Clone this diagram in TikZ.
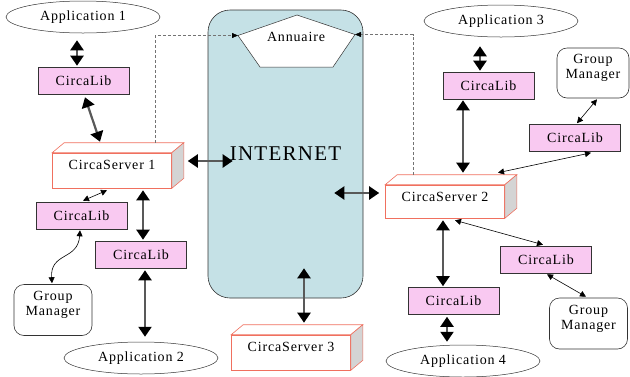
\documentclass[tikz,border=0pt]{standalone}
\usepackage{fontspec}
\setmainfont{Liberation Serif}
\newfontfamily\circafont[LetterSpace=6]{Liberation Serif}
\usepackage{tikz}
\usetikzlibrary{positioning,arrows.meta,shapes.geometric,calc}
\definecolor{CircaPink}{HTML}{F9C9F1}
\definecolor{CircaSky}{HTML}{C5E1E6}
\definecolor{CircaSalmon}{HTML}{F0705F}
\definecolor{CircaSide}{HTML}{D4D4D4}
\definecolor{CircaEdge}{HTML}{333333}
\newcommand\circasize{\circafont\fontsize{14}{15}\selectfont}
\tikzset{
  clib/.style={draw=CircaEdge,line width=0.6pt,fill=CircaPink,minimum width=91pt,minimum height=27pt,inner sep=0pt,font=\circasize},
  capp/.style={draw=CircaEdge,line width=0.5pt,ellipse,minimum width=154pt,minimum height=32pt,inner sep=0pt,font=\circasize},
  cgm/.style={draw=CircaEdge,line width=0.6pt,rounded corners=10pt,align=center,minimum width=78pt,minimum height=51pt,inner sep=0pt,font=\circasize},
  csrv/.style={draw=CircaSalmon,line width=0.6pt,fill=white,minimum width=119pt,minimum height=35pt,inner xsep=0pt,inner ysep=6pt,text height=10pt,text depth=13pt,font=\circasize},
  cnet/.style={draw=CircaEdge,line width=0.6pt,fill=CircaSky,rounded corners=22pt,minimum width=155pt,minimum height=288pt,inner sep=0pt,font=\circafont\fontsize{21}{23}\selectfont},
  bigflow/.style={{Triangle[length=10pt,width=13pt,color=black]}-{Triangle[length=10pt,width=13pt,color=black]},line width=2.2pt,draw=black!65},
  thinflow/.style={{Triangle[length=6pt,width=6pt]}-{Triangle[length=6pt,width=6pt]},line width=0.6pt},
  dirflow/.style={-{Triangle[length=6pt,width=5pt,color=black]},draw=black!55,dash pattern=on 3pt off 2pt}
}
\newcommand\serverdepth[1]{%
  \filldraw[draw=CircaSalmon,line width=0.6pt,fill=white] (#1.north west) -- ++(12pt,10pt) -- ([shift={(12pt,10pt)}]#1.north east) -- (#1.north east) -- cycle;
  \filldraw[draw=CircaSalmon,line width=0.6pt,fill=CircaSide] (#1.north east) -- ++(12pt,10pt) -- ([shift={(12pt,10pt)}]#1.south east) -- (#1.south east) -- cycle;}

\begin{document}
\begin{tikzpicture}[x=1pt,y=-1pt]
  \useasboundingbox (0,0) rectangle (630,376);
  % internet and directory
  \node[cnet] (inet) at (285.5,154) {INTERNET};
  \coordinate (annL) at (238,35.5);
  \coordinate (annT) at (297,15);
  \coordinate (annR) at (355,34.5);
  \coordinate (annBR) at (333,67);
  \coordinate (annBL) at (260,67);
  \filldraw[draw=CircaEdge,line width=0.5pt,fill=white] (annL) -- (annT) -- (annR) -- (annBR) -- (annBL) -- cycle;
  \node[font=\circasize] (ann) at (296,37) {Annuaire};

  % servers
  \node[csrv] (srvA) at (112,170.5) {CircaServer 1};
  \serverdepth{srvA}
  \node[csrv,minimum height=33pt,text depth=11pt] (srvB) at (445,201.5) {CircaServer 2};
  \serverdepth{srvB}
  \node[csrv] (srvC) at (291,352.5) {CircaServer 3};
  \serverdepth{srvC}

  % left side
  \node[capp] (appA) at (83,17) {Application 1};
  \node[clib] (libA) at (83.5,80.5) {CircaLib};
  \node[clib] (libL) at (81.5,215.5) {CircaLib};
  \node[cgm] (gmL) at (53,310) {Group\\Manager\\[-2pt]\mbox{}};
  \node[clib] (libB) at (141,254.5) {CircaLib};
  \node[capp] (appB) at (141,358) {Application 2};

  % right side
  \node[capp] (appC) at (501,21) {Application 3};
  \node[clib] (libC) at (488.5,85.5) {CircaLib};
  \node[cgm,minimum width=72pt,minimum height=50pt] (gmA) at (593,73) {Group\\Manager\\[-2pt]\mbox{}};
  \node[clib] (libD) at (575,138) {CircaLib};
  \node[clib] (libF) at (546,259.5) {CircaLib};
  \node[cgm] (gmB) at (588.5,323.5) {Group\\Manager\\[-2pt]\mbox{}};
  \node[clib] (libE) at (453.5,301) {CircaLib};
  \node[capp] (appD) at (463,361) {Application 4};

  % directory links
  \draw[dirflow] ([xshift=43pt,yshift=10pt]srvA.north) |- (annL);
  \draw[dirflow] ([xshift=-32pt,yshift=10pt]srvB.north) |- (annR);

  % left links
  \draw[bigflow] ([xshift=-6pt,yshift=-7pt]appA.south) -- ([xshift=-6.5pt,yshift=1pt]libA.north);
  \draw[bigflow] ([xshift=1.5pt,yshift=-3pt]libA.south) -- ([xshift=-12pt,yshift=11pt]srvA.north);
  \draw[bigflow] ([xshift=16pt,yshift=9.5pt]srvA.east) -- ([xshift=25pt,yshift=-7pt]inet.west);
  \draw[thinflow] ([xshift=-5pt,yshift=-2pt]srvA.south) -- ([xshift=1.5pt,yshift=1pt]libL.north);
  \draw[bigflow] ([xshift=31pt,yshift=-2pt]srvA.south) -- ([xshift=2pt,yshift=1pt]libB.north);
  \draw[thinflow] ([xshift=-1.5pt,yshift=-1pt]libL.south) .. controls +(-2,30) and +(-2,-31) .. ([xshift=-1pt,yshift=1pt]gmL.north);
  \draw[bigflow] ([xshift=4pt,yshift=-2pt]libB.south) -- ([xshift=4pt,yshift=5pt]appB.north);

  % bottom link
  \draw[bigflow] ([xshift=18.5pt,yshift=30pt]inet.south) -- ([xshift=13pt,yshift=12pt]srvC.north);

  % right links
  \draw[bigflow] ([xshift=-29pt,yshift=-39pt]inet.east) -- ([xshift=-6pt,yshift=8.5pt]srvB.west);
  \draw[bigflow] ([xshift=-21pt,yshift=-9pt]appC.south) -- ([xshift=-8.5pt,yshift=1pt]libC.north);
  \draw[bigflow] ([xshift=-25.5pt,yshift=-1pt]libC.south) -- ([xshift=18pt,yshift=12pt]srvB.north);
  \draw[thinflow] ([xshift=4pt,yshift=-1pt]gmA.south) -- ([xshift=2pt,yshift=1pt]libD.north);
  \draw[thinflow] ([xshift=16pt,yshift=-1pt]libD.south) -- ([xshift=53pt,yshift=12pt]srvB.north);
  \draw[bigflow] ([xshift=-2pt,yshift=-2pt]srvB.south) -- ([xshift=-10.5pt,yshift=1pt]libE.north);
  \draw[bigflow] ([xshift=-6.5pt,yshift=-2pt]libE.south) -- ([xshift=-16pt,yshift=3pt]appD.north);
  \draw[thinflow] ([xshift=10pt,yshift=-2pt]srvB.south) -- ([xshift=-3pt,yshift=1pt]libF.north);
  \draw[thinflow] ([xshift=1pt,yshift=-1pt]libF.south) -- ([xshift=-2.5pt,yshift=1pt]gmB.north);
\end{tikzpicture}
\end{document}
